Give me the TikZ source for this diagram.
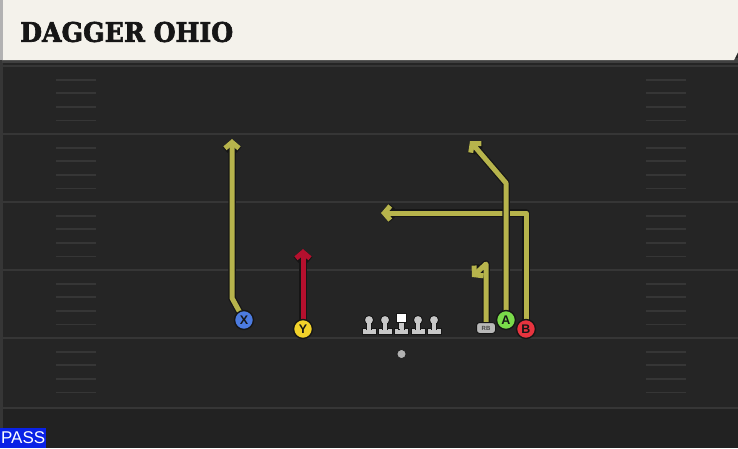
\documentclass[tikz,border=0pt]{standalone}
\usepackage{fontspec}
\setmainfont{Liberation Sans}
\newfontfamily\titlefont{DejaVu Serif}[BoldFeatures={FakeBold=2.5}]
\usetikzlibrary{arrows.meta}
\definecolor{field}{HTML}{252525}
\definecolor{fieldlow}{HTML}{222222}
\definecolor{yard}{HTML}{363636}
\definecolor{hashc}{HTML}{363636}
\definecolor{cream}{HTML}{F4F2EB}
\definecolor{routey}{HTML}{B7B44C}
\definecolor{router}{HTML}{B5102E}
\definecolor{outl}{HTML}{161616}
\definecolor{pX}{HTML}{4C7BE0}
\definecolor{pY}{HTML}{F2D22A}
\definecolor{pA}{HTML}{7ADB4A}
\definecolor{pB}{HTML}{E8343F}
\definecolor{rbg}{HTML}{B8B8B8}
\definecolor{lmg}{HTML}{C8C8C8}
\definecolor{passblue}{HTML}{0A22E6}
\pgfdeclarelayer{bg}
\pgfdeclarelayer{routes}
\pgfsetlayers{bg,routes,main}
\tikzset{
  yardline/.style={draw=yard, line width=2.2pt},
  hashline/.style={draw=hashc, line width=1.8pt},
  routeunder/.style={draw=outl, line width=7.5pt, line join=round, -{Straight Barb[length=6pt,width=14pt]}},
  routeover/.style={draw=#1, line width=5pt, line join=round, -{Straight Barb[length=6pt,width=14pt]}},
  player/.style={circle, minimum size=19pt, inner sep=0pt, draw=outl, line width=1.4pt, fill=#1, text=outl, font=\bfseries\fontsize{12.5}{12.5}\selectfont},
  rbbox/.style={rectangle, rounded corners=3pt, minimum width=19pt, minimum height=11pt, inner sep=0pt, draw=outl, line width=1pt, fill=rbg, text=outl!80, font=\bfseries\fontsize{6}{6}\selectfont},
  lm/.style={fill=lmg, draw=outl, line width=1pt},
  lmin/.style={fill=lmg},
}
\begin{document}
\begin{tikzpicture}[x=1pt,y=-1pt]
\useasboundingbox (0,0) rectangle (738,448);
\begin{pgfonlayer}{bg}
\fill[field] (0,0) rectangle (738,448);
\fill[fieldlow] (0,408) rectangle (738,448);
\fill[yard] (0,60) rectangle (3,448);
\foreach \yy in {66,134,202,270,338,408} \draw[yardline] (3,\yy) -- (738,\yy);
\foreach \yy in {66,134,202,270,338} \foreach \k in {1,2,3,4} {
  \draw[hashline] (56,\yy+\k*13.6) -- (96,\yy+\k*13.6);
  \draw[hashline] (646,\yy+\k*13.6) -- (686,\yy+\k*13.6);
}
\fill[black!75] (2,58) rectangle (738,63);
\fill[cream] (2,0) -- (738,0) -- (738,52) -- (734,60) -- (2,60) -- cycle;
\fill[black!30] (0,0) rectangle (2.5,60);
\end{pgfonlayer}
\node[anchor=west, inner sep=0pt, text=outl] (title) at (20,32) {\resizebox{213pt}{20pt}{\titlefont\bfseries DAGGER OHIO}};
% offensive line
\foreach \xx in {369,385,418,434} {
  \filldraw[lm] (\xx-7,328) rectangle (\xx+7,334.5);
  \filldraw[lm] (\xx-2.7,321) rectangle (\xx+2.7,329);
  \filldraw[lm] (\xx,320) circle (4.6);
  \fill[lmin] (\xx-2,319.5) rectangle (\xx+2,329.5);
}
\filldraw[lm] (394.5,328) rectangle (408.5,334.5);
\filldraw[lm] (398.8,321) rectangle (404.2,329);
\fill[lmin] (399.5,320) rectangle (403.5,329.5);
\filldraw[fill=white, draw=outl, line width=1pt] (396.5,313) rectangle (406.5,322.5);
\node[circle, fill=gray!60, draw=outl, line width=0.6pt, minimum size=9pt, inner sep=0pt] (ball) at (401.5,354) {};
% players
\node[player=pX] (X) at (244,320) {X};
\node[player=pY] (Y) at (303,329) {Y};
\node[player=pA] (A) at (506,320) {A};
\node[player=pB] (B) at (526,329) {B};
\node[rbbox] (RB) at (486,328) {RB};
% route points
\coordinate (xw) at (232,298);
\coordinate (xt) at (232,139);
\coordinate (yt) at (303,249);
\coordinate (aw) at (506,183);
\coordinate (at) at (470,141);
\coordinate (bw) at (526,213);
\coordinate (bt) at (381,213);
\coordinate (rw) at (486,264);
\coordinate (rt) at (472,277);
\begin{pgfonlayer}{routes}
\draw[routeunder] (X.center) -- (xw) -- (xt);
\draw[routeover=routey] (X.center) -- (xw) -- (xt);
\draw[routeunder] (Y.center) -- (yt);
\draw[routeover=router] (Y.center) -- (yt);
\draw[routeunder] (B.center) -- (bw) -- (bt);
\draw[routeover=routey] (B.center) -- (bw) -- (bt);
\draw[routeunder] (A.center) -- (aw) -- (at);
\draw[routeover=routey] (A.center) -- (aw) -- (at);
\draw[routeunder] (RB.center) -- (rw) -- (rt);
\draw[routeover=routey] (RB.center) -- (rw) -- (rt);
\end{pgfonlayer}
\node[fill=passblue, text=white, anchor=south west, minimum width=46pt, minimum height=20pt, inner sep=0pt, font=\fontsize{17}{17}\selectfont] (pass) at (0,448) {PASS};
\end{tikzpicture}
\end{document}
